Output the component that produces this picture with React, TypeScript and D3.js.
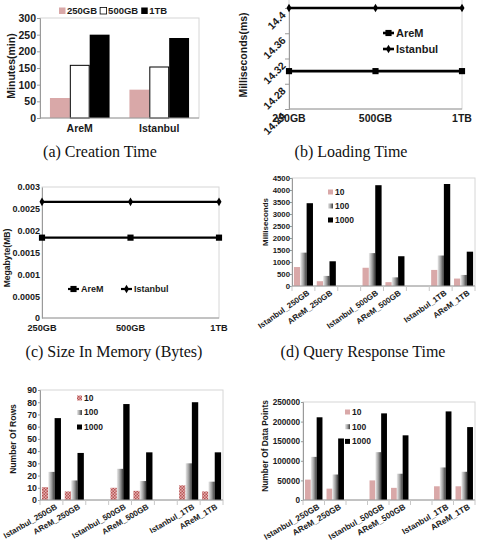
import React, { useEffect, useRef } from 'react';
import * as d3 from 'd3';

// (a) creation time, grouped by dataset, one bar per size
const datasets = ['AreM', 'Istanbul'];
const sizes = ['250GB', '500GB', '1TB'];
const creation250 = [60, 85];
const creation500 = [158, 153];
const creation1TB = [250, 240];
const creationTicks = [0, 50, 100, 150, 200, 250, 300];

// (b) loading time
const loadingAreM = [14.3, 14.3, 14.3];
const loadingIstanbul = [14.4, 14.4, 14.4];
const loadingTicks = [14.24, 14.28, 14.32, 14.36, 14.4];

// (c) size in memory
const memoryAreM = [0.00184, 0.00184, 0.00184];
const memoryIstanbul = [0.00266, 0.00266, 0.00266];
const memoryTicks = [0, 0.0005, 0.001, 0.0015, 0.002, 0.0025, 0.003];
const memoryTickLabels = ['0', '0.0005', '0.001', '0.0015', '0.002', '0.0025', '0.003'];

// (d)-(f) query results
const queryCats = ['Istanbul_250GB', 'AReM_250GB', 'Istanbul_500GB', 'AReM_500GB', 'Istanbul_1TB', 'AReM_1TB'];
const querySeries = ['10', '100', '1000'];

const response10 = [790, 200, 760, 160, 670, 310];
const response100 = [1390, 420, 1370, 360, 1270, 460];
const response1000 = [3450, 1030, 4200, 1240, 4250, 1430];
const responseTicks = [0, 500, 1000, 1500, 2000, 2500, 3000, 3500, 4000, 4500];

const rows10 = [10.5, 7, 10, 7.5, 12, 7];
const rows100 = [23, 16, 25.5, 15.5, 30, 15];
const rows1000 = [67, 38.5, 78.5, 39, 80, 39];
const rowsTicks = [0, 10, 20, 30, 40, 50, 60, 70, 80, 90];

const points10 = [52000, 29000, 50000, 31000, 35000, 35000];
const points100 = [110000, 65000, 122000, 67000, 83000, 72000];
const points1000 = [211000, 157000, 221000, 165000, 226000, 186000];
const pointsTicks = [0, 50000, 100000, 150000, 200000, 250000];

const FONT = '"Liberation Sans", Arial, sans-serif';
const SERIF = '"Liberation Serif", "Times New Roman", serif';
const INK = '#1a1a1a';
const PINK = '#d9a8a8';
const AXIS = '#9a9a9a';
const FRAME = '#d6d6d6';
const plain = d3.format('d');

function styleAxis(ax, fs) {
  ax.attr('font-family', FONT).attr('font-size', fs).attr('font-weight', 'bold');
  ax.select('.domain').attr('stroke', AXIS);
  ax.selectAll('.tick line').attr('stroke', AXIS);
  ax.selectAll('.tick text').attr('fill', INK);
}

function boldText(g, x, y, txt, fs, anchor = 'middle') {
  return g.append('text')
    .attr('x', x).attr('y', y)
    .attr('text-anchor', anchor)
    .attr('dy', '0.35em')
    .attr('font-family', FONT)
    .attr('font-weight', 'bold')
    .attr('font-size', fs)
    .attr('fill', INK)
    .text(txt);
}

function yTitle(g, x, y, txt, fs) {
  g.append('text')
    .attr('transform', `translate(${x},${y}) rotate(-90)`)
    .attr('text-anchor', 'middle')
    .attr('dy', '0.35em')
    .attr('font-family', FONT)
    .attr('font-weight', 'bold')
    .attr('font-size', fs)
    .attr('fill', INK)
    .text(txt);
}

function caption(svg, x, y, txt) {
  svg.append('text')
    .attr('x', x).attr('y', y)
    .attr('text-anchor', 'middle')
    .attr('font-family', SERIF)
    .attr('font-size', 16)
    .attr('fill', '#111')
    .text(txt);
}

function linePanel(svg, o) {
  const g = svg.append('g');
  const x = d3.scalePoint().domain(sizes).range([o.left, o.right]);
  const y = d3.scaleLinear().domain(o.domain).range([o.bottom, o.top]);
  const yTop = y(o.frameTop);

  g.append('rect')
    .attr('x', o.left).attr('y', yTop)
    .attr('width', o.right - o.left).attr('height', o.bottom - yTop)
    .attr('fill', 'none').attr('stroke', FRAME);

  const ax = g.append('g')
    .attr('transform', `translate(${o.left},0)`)
    .call(d3.axisLeft(y).tickValues(o.ticks).tickSize(o.tickSize).tickPadding(o.tickPad)
      .tickFormat((d, i) => (o.tickLabels ? o.tickLabels[i] : String(d))));
  styleAxis(ax, o.tickFs);
  if (o.rotateTicks) {
    ax.selectAll('.tick text').attr('transform', 'rotate(-45)');
  }
  g.append('line')
    .attr('x1', o.left).attr('x2', o.right)
    .attr('y1', o.bottom).attr('y2', o.bottom)
    .attr('stroke', AXIS);

  sizes.forEach(s => boldText(g, x(s), o.bottom + o.xLabelGap, s, o.xFs));

  const line = d3.line().x((d, i) => x(sizes[i])).y(d => y(d));
  const series = [
    { vals: o.arem, sym: d3.symbolSquare, size: 38 },
    { vals: o.istanbul, sym: d3.symbolDiamond, size: 22 },
  ];
  series.forEach(s => {
    g.append('path').attr('d', line(s.vals)).attr('fill', 'none')
      .attr('stroke', '#000').attr('stroke-width', o.lineW);
    g.selectAll(null).data(s.vals).join('path')
      .attr('transform', (d, i) => `translate(${x(sizes[i])},${y(d)})`)
      .attr('d', d3.symbol().type(s.sym).size(s.size))
      .attr('fill', '#000');
  });

  // legend
  const names = ['AreM', 'Istanbul'];
  names.forEach((n, i) => {
    const lx = o.legX[i];
    const ly = o.legY[i];
    g.append('line').attr('x1', lx).attr('x2', lx + 11).attr('y1', ly).attr('y2', ly)
      .attr('stroke', '#000').attr('stroke-width', o.lineW);
    g.append('path').attr('transform', `translate(${lx + 5.5},${ly})`)
      .attr('d', d3.symbol().type(series[i].sym).size(series[i].size)).attr('fill', '#000');
    boldText(g, lx + 13, ly, n, o.legFs, 'start');
  });

  yTitle(g, o.titleX, o.titleY, o.title, o.titleFs);
}

function barPanel(svg, o) {
  const g = svg.append('g');
  const y = d3.scaleLinear().domain([0, o.max]).range([o.bottom, o.top]);
  // 8 slots: pairs of categories with an empty slot between size groups
  const slot = d3.scaleBand().domain(d3.range(8)).range([o.left, o.right]);
  const inner = d3.scaleBand().domain(d3.range(3)).range([0, slot.bandwidth()]).paddingOuter(o.pad);
  const slotOf = i => i + Math.floor(i / 2);

  g.append('rect')
    .attr('x', o.left).attr('y', o.top)
    .attr('width', o.right - o.left).attr('height', o.bottom - o.top)
    .attr('fill', 'none').attr('stroke', FRAME);

  o.series.forEach((vals, s) => {
    g.selectAll(null).data(vals).join('rect')
      .attr('x', (d, i) => slot(slotOf(i)) + inner(s))
      .attr('y', d => y(d))
      .attr('width', inner.bandwidth())
      .attr('height', d => o.bottom - y(d))
      .attr('fill', o.fills[s]);
  });

  const ax = g.append('g')
    .attr('transform', `translate(${o.left},0)`)
    .call(d3.axisLeft(y).tickValues(o.ticks).tickSize(2).tickPadding(o.tickPad).tickFormat(plain));
  styleAxis(ax, o.tickFs);

  g.append('line')
    .attr('x1', o.left).attr('x2', o.right)
    .attr('y1', o.bottom).attr('y2', o.bottom)
    .attr('stroke', AXIS);
  g.selectAll(null).data(d3.range(9)).join('line')
    .attr('x1', k => o.left + k * slot.step()).attr('x2', k => o.left + k * slot.step())
    .attr('y1', o.bottom).attr('y2', o.bottom + 5)
    .attr('stroke', '#c8c8c8');

  g.selectAll(null).data(queryCats).join('text')
    .attr('transform', (d, i) =>
      `translate(${slot(slotOf(i)) + slot.bandwidth() / 2 + 5},${o.bottom + 6}) rotate(${o.angle})`)
    .attr('text-anchor', 'end')
    .attr('dy', '0.35em')
    .attr('font-family', FONT)
    .attr('font-weight', 'bold')
    .attr('font-size', o.catFs)
    .attr('fill', INK)
    .text(d => d);

  querySeries.forEach((n, s) => {
    const ly = o.legY + s * o.legStep;
    g.append('rect').attr('x', o.legX).attr('y', ly - 2.5).attr('width', 5).attr('height', 5)
      .attr('fill', o.fills[s]);
    boldText(g, o.legX + 7, ly, n, o.legFs, 'start');
  });

  yTitle(g, o.titleX, o.titleY, o.title, o.titleFs);
}

export default function App() {
  const ref = useRef(null);

  useEffect(() => {
    const svg = d3.select(ref.current);
    svg.selectAll('*').remove();

    const defs = svg.append('defs');
    const grad = defs.append('linearGradient').attr('id', 'greyBar')
      .attr('x1', 0).attr('x2', 1).attr('y1', 0).attr('y2', 0);
    grad.append('stop').attr('offset', '0%').attr('stop-color', '#ececec');
    grad.append('stop').attr('offset', '50%').attr('stop-color', '#a0a0a0');
    grad.append('stop').attr('offset', '100%').attr('stop-color', '#3c3c3c');
    const pat = defs.append('pattern').attr('id', 'checkPink')
      .attr('width', 3).attr('height', 3).attr('patternUnits', 'userSpaceOnUse');
    pat.append('rect').attr('width', 3).attr('height', 3).attr('fill', '#e4b0b0');
    pat.append('rect').attr('width', 1.5).attr('height', 1.5).attr('fill', '#b85454');
    pat.append('rect').attr('x', 1.5).attr('y', 1.5).attr('width', 1.5).attr('height', 1.5).attr('fill', '#b85454');

    // ---- (a) Creation Time
    {
      const g = svg.append('g');
      const left = 40, right = 199, top = 18, bottom = 118;
      const y = d3.scaleLinear().domain([0, 300]).range([bottom, top]);
      const x0 = d3.scaleBand().domain(datasets).range([left, right]);
      const x1 = d3.scaleBand().domain(d3.range(3)).range([0, x0.bandwidth()]).paddingOuter(0.5);
      const creation = [creation250, creation500, creation1TB];
      const fills = [PINK, '#fff', '#000'];

      g.append('rect').attr('x', left).attr('y', top)
        .attr('width', right - left).attr('height', bottom - top)
        .attr('fill', 'none').attr('stroke', FRAME);

      creation.forEach((vals, s) => {
        g.selectAll(null).data(vals).join('rect')
          .attr('x', (d, i) => x0(datasets[i]) + x1(s) + (s === 1 ? 0.5 : 0))
          .attr('y', d => y(d))
          .attr('width', x1.bandwidth() - (s === 1 ? 1 : 0))
          .attr('height', d => bottom - y(d))
          .attr('fill', fills[s])
          .attr('stroke', s === 1 ? '#000' : 'none')
          .attr('stroke-width', 1);
      });

      const ax = g.append('g').attr('transform', `translate(${left},0)`)
        .call(d3.axisLeft(y).tickValues(creationTicks).tickSize(3).tickPadding(1).tickFormat(plain));
      styleAxis(ax, 10.5);
      g.append('line').attr('x1', left).attr('x2', right).attr('y1', bottom).attr('y2', bottom)
        .attr('stroke', AXIS);
      datasets.forEach(d => boldText(g, x0(d) + x0.bandwidth() / 2, bottom + 10, d, 10.5));

      // legend across the top
      let lx = 59;
      sizes.forEach((s, i) => {
        g.append('rect').attr('x', lx).attr('y', 7.5).attr('width', 6.5).attr('height', 6.5)
          .attr('fill', fills[i]).attr('stroke', i === 1 ? '#000' : 'none').attr('stroke-width', 0.8);
        const t = boldText(g, lx + 8, 11, s, 9.5, 'start');
        lx += 8 + (t.node().getComputedTextLength()) + 3;
      });

      yTitle(g, 11, 66, 'Minutes(min)', 10.5);
      caption(svg, 100, 157, '(a) Creation Time');
    }

    // ---- (b) Loading Time
    linePanel(svg, {
      left: 289, right: 462, top: 8, bottom: 109,
      domain: [14.24, 14.4], frameTop: 14.44,
      ticks: loadingTicks, tickFs: 10.5, rotateTicks: true, tickSize: 4, tickPad: 3,
      xFs: 10.5, xLabelGap: 9,
      arem: loadingAreM, istanbul: loadingIstanbul, lineW: 2.6,
      legX: [383, 383], legY: [33, 49], legFs: 11,
      title: 'Milliseconds(ms)', titleX: 243, titleY: 55, titleFs: 10.5,
    });
    caption(svg, 351, 157, '(b) Loading Time');

    // ---- (c) Size In Memory
    linePanel(svg, {
      left: 42, right: 219, top: 187, bottom: 318,
      domain: [0, 0.003], frameTop: 0.003,
      ticks: memoryTicks, tickLabels: memoryTickLabels, tickFs: 9, rotateTicks: false,
      tickSize: 0, tickPad: 2,
      xFs: 9.2, xLabelGap: 10,
      arem: memoryAreM, istanbul: memoryIstanbul, lineW: 2.2,
      legX: [68, 121], legY: [289, 289], legFs: 9,
      title: 'Megabyte(MB)', titleX: 6.5, titleY: 258, titleFs: 8.6,
    });
    caption(svg, 114, 357, '(c) Size In Memory (Bytes)');

    // ---- (d) Query Response Time
    barPanel(svg, {
      left: 292, right: 475, top: 178, bottom: 286, max: 4500, ticks: responseTicks,
      tickFs: 7.8, tickPad: 0,
      series: [response10, response100, response1000],
      fills: [PINK, 'url(#greyBar)', '#000'], pad: 0.3,
      angle: -35, catFs: 8,
      legX: 328, legY: 192, legStep: 14, legFs: 8.5,
      title: 'Milliseconds', titleX: 265.5, titleY: 222, titleFs: 8,
    });
    caption(svg, 363, 357, '(d) Query Response Time');

    // ---- (e) Number Of Rows
    barPanel(svg, {
      left: 40, right: 223, top: 390, bottom: 500, max: 90, ticks: rowsTicks,
      tickFs: 8.8, tickPad: 1,
      series: [rows10, rows100, rows1000],
      fills: ['url(#checkPink)', 'url(#greyBar)', '#000'], pad: 0.3,
      angle: -30, catFs: 8,
      legX: 77, legY: 398, legStep: 14.5, legFs: 8.5,
      title: 'Number Of Rows', titleX: 13, titleY: 439, titleFs: 8.6,
    });

    // ---- (f) Number Of Data Points
    barPanel(svg, {
      left: 303, right: 475, top: 402, bottom: 500, max: 250000, ticks: pointsTicks,
      tickFs: 8.2, tickPad: 1,
      series: [points10, points100, points1000],
      fills: [PINK, 'url(#greyBar)', '#000'], pad: 0.35,
      angle: -30, catFs: 8.3,
      legX: 345, legY: 412, legStep: 14.7, legFs: 8.5,
      title: 'Number Of Data Points', titleX: 265, titleY: 446, titleFs: 8.4,
    });
  }, []);

  return (
    <svg
      ref={ref}
      width={480}
      height={550}
      style={{ position: 'absolute', left: 0, top: 0, background: '#fff' }}
    />
  );
}
